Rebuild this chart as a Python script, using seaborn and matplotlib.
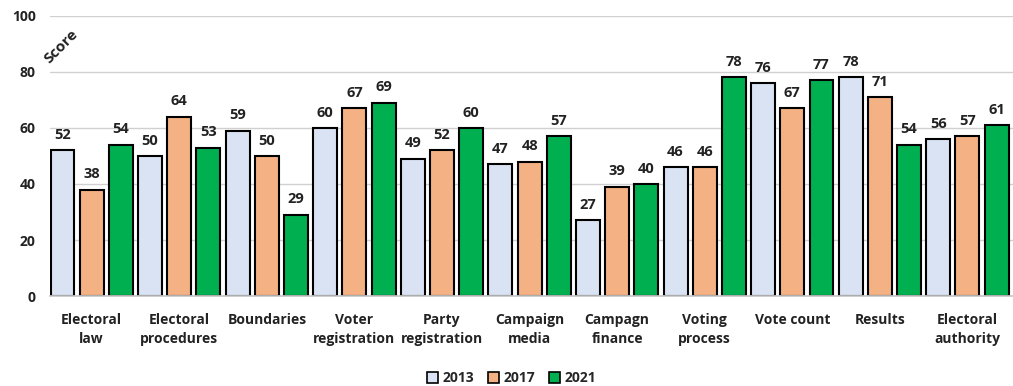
import matplotlib
matplotlib.use("Agg")
import matplotlib.pyplot as plt
import seaborn as sns
import pandas as pd
from matplotlib.patches import Patch

categories = ["Electoral\nlaw", "Electoral\nprocedures", "Boundaries", "Voter\nregistration",
              "Party\nregistration", "Campaign\nmedia", "Campagn\nfinance", "Voting\nprocess",
              "Vote count", "Results", "Electoral\nauthority"]
years = ["2013", "2017", "2021"]
v2013 = [52, 50, 59, 60, 49, 47, 27, 46, 76, 78, 56]
v2017 = [38, 64, 50, 67, 52, 48, 39, 46, 67, 71, 57]
v2021 = [54, 53, 29, 69, 60, 57, 40, 78, 77, 54, 61]
colors = ["#DAE3F3", "#F4B183", "#00B050"]

rows = []
for yr, vals in zip(years, [v2013, v2017, v2021]):
    for c, v in zip(categories, vals):
        rows.append({"cat": c, "year": yr, "score": v})
df = pd.DataFrame(rows)

sns.set_theme(style="white")
plt.rcParams['font.family'] = ['Open Sans', 'DejaVu Sans']
plt.rcParams['font.weight'] = 'bold'

FS = 10
fig = plt.figure(figsize=(10.13, 3.86), dpi=100)
ax = fig.add_axes([0.049, 0.233, 0.951, 0.726])

sns.barplot(data=df, x="cat", y="score", hue="year", palette=colors, order=categories,
            hue_order=years, width=1.0, gap=0.18, edgecolor="black", linewidth=1.5,
            saturation=1, ax=ax, legend=False, errorbar=None)

for cont in ax.containers:
    ax.bar_label(cont, padding=6, fontsize=10.5, fontweight="bold", color="#222222")

ax.set_ylim(0, 100)
ax.set_xlim(-0.48, 10.52)
ax.set_yticks(range(0, 101, 20))
ax.yaxis.grid(True, color="#D0D0D0", linewidth=1)
ax.set_axisbelow(True)
for s in ["top", "right", "left"]:
    ax.spines[s].set_visible(False)
ax.spines["bottom"].set_color("#C8C8C8")
ax.tick_params(axis="both", length=0, labelsize=FS, colors="#222222")
ax.tick_params(axis="x", pad=12)
ax.tick_params(axis="y", pad=10)
for lbl in ax.get_xticklabels():
    lbl.set_fontweight("bold")
    lbl.set_linespacing(1.5)
for lbl in ax.get_yticklabels():
    lbl.set_fontweight("bold")
ax.set_xlabel("")
ax.set_ylabel("")

ax.text(0.012, 0.89, "Score", transform=ax.transAxes, rotation=45, fontsize=11,
        fontweight="bold", color="#222222", ha="center", va="center")

handles = [Patch(facecolor=c, edgecolor="black", linewidth=1.2, label=y) for c, y in zip(colors, years)]
fig.legend(handles=handles, loc="lower center", ncol=3, frameon=False, bbox_to_anchor=(0.505, -0.03),
           handlelength=0.8, handleheight=0.8, handletextpad=0.3, columnspacing=1.0,
           prop={"weight": "bold", "size": FS})

fig.savefig("out.png", dpi=100)
